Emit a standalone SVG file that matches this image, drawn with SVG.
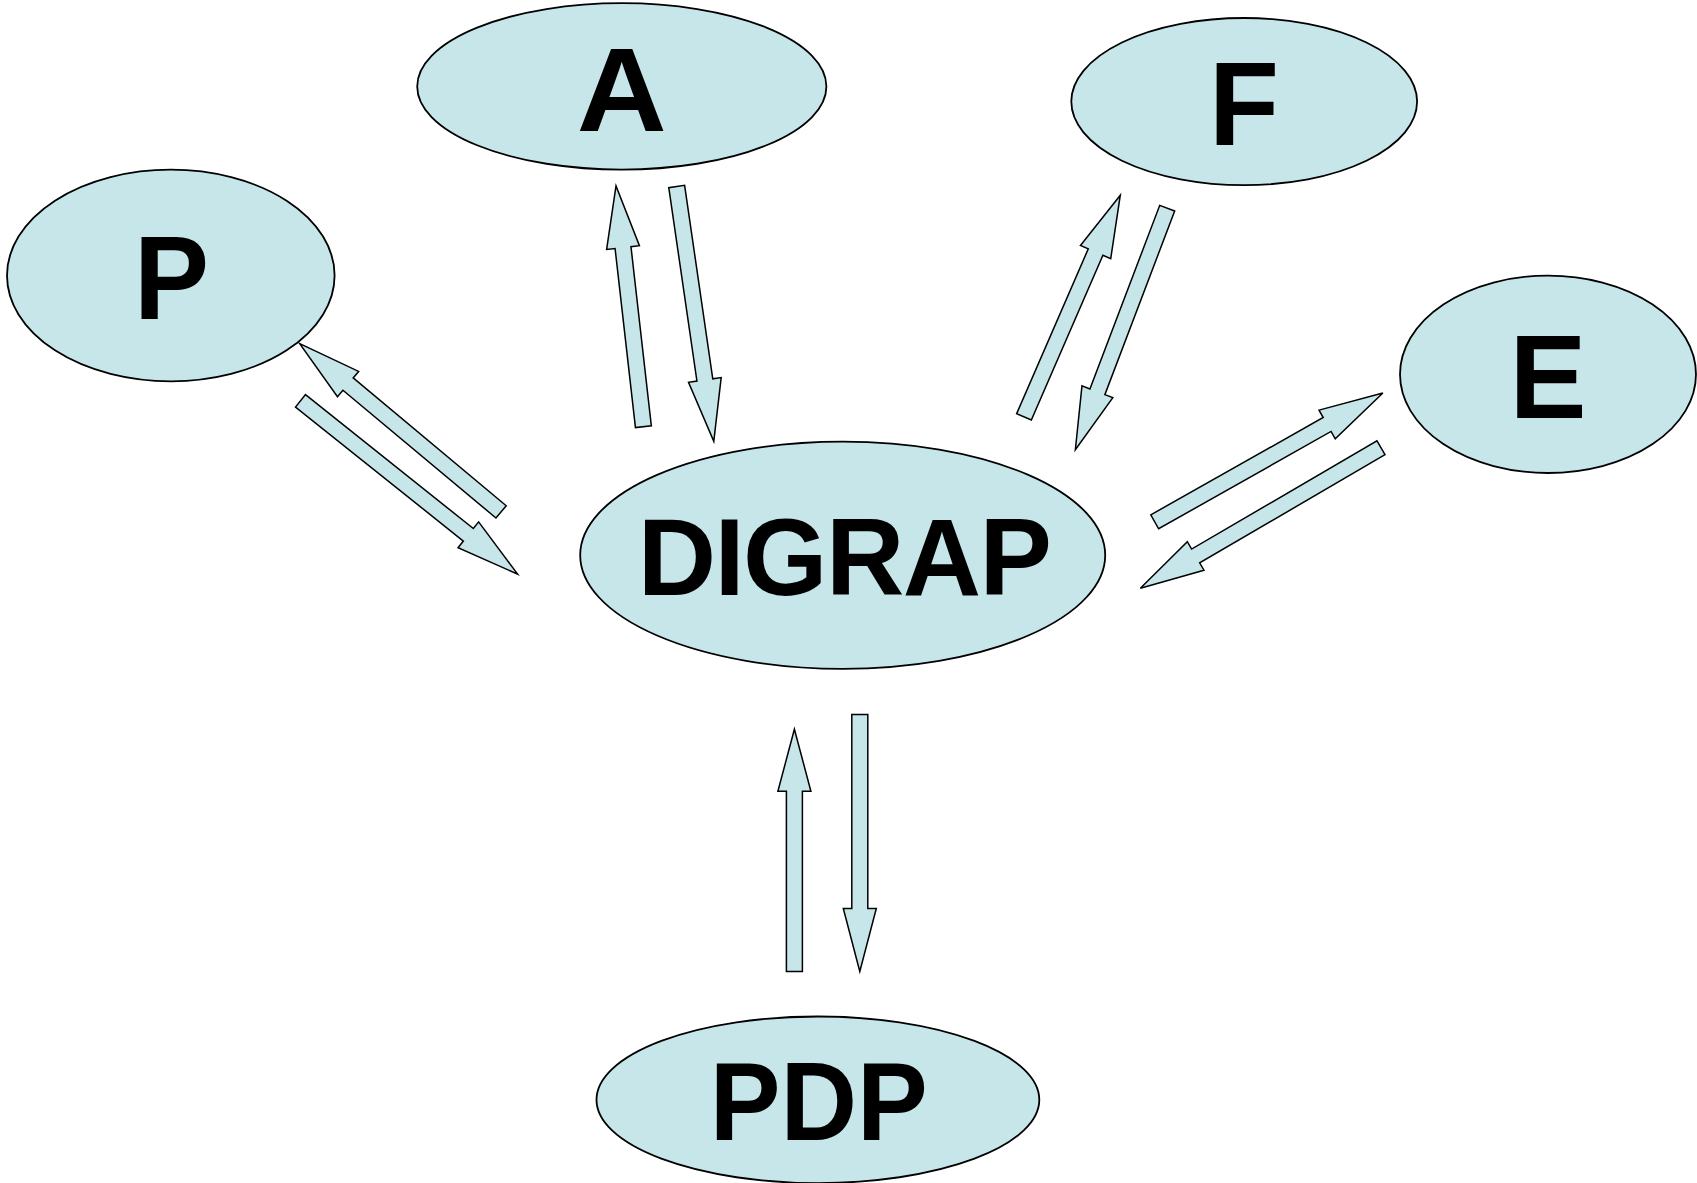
<svg xmlns="http://www.w3.org/2000/svg" width="1697" height="1183" viewBox="0 0 1697 1183">
<style>
.node ellipse{fill:#C6E6EA;stroke:#000;stroke-width:1.8}
.node text{font-family:"Liberation Sans",Arial,sans-serif;font-weight:bold;fill:#000;text-anchor:middle}
.arrow{fill:#C6E6EA;stroke:#000;stroke-width:1.5;stroke-linejoin:miter}
</style>
<rect width="1697" height="1183" fill="#fff"/>
<g id="connectors">
<path class="arrow" transform="translate(643.4,426.7) rotate(-96.49)" d="M0,-8 L180.3,-8 L180.3,-16.5 L242.3,0 L180.3,16.5 L180.3,8 L0,8 Z"/>
<path class="arrow" transform="translate(676.7,186.5) rotate(81.72)" d="M0,-8 L195.5,-8 L195.5,-16.5 L257.5,0 L195.5,16.5 L195.5,8 L0,8 Z"/>
<path class="arrow" transform="translate(501.1,511.9) rotate(-140.13)" d="M0,-8 L199.4,-8 L199.4,-16.5 L262.4,0 L199.4,16.5 L199.4,8 L0,8 Z"/>
<path class="arrow" transform="translate(300.5,400.9) rotate(38.58)" d="M0,-8 L214.7,-8 L214.7,-16.5 L277.7,0 L214.7,16.5 L214.7,8 L0,8 Z"/>
<path class="arrow" transform="translate(1024,416.8) rotate(-66.51)" d="M0,-8 L179.6,-8 L179.6,-16.5 L241.6,0 L179.6,16.5 L179.6,8 L0,8 Z"/>
<path class="arrow" transform="translate(1167.2,208.2) rotate(110.82)" d="M0,-8 L196.4,-8 L196.4,-16.5 L258.4,0 L196.4,16.5 L196.4,8 L0,8 Z"/>
<path class="arrow" transform="translate(1154.7,521.8) rotate(-29.44)" d="M0,-8 L198,-8 L198,-16.5 L262,0 L198,16.5 L198,8 L0,8 Z"/>
<path class="arrow" transform="translate(1381,447.8) rotate(149.74)" d="M0,-8 L214.6,-8 L214.6,-16.5 L278.6,0 L214.6,16.5 L214.6,8 L0,8 Z"/>
<path class="arrow" transform="translate(794.4,971.5) rotate(-90)" d="M0,-8 L180.3,-8 L180.3,-16.5 L242.3,0 L180.3,16.5 L180.3,8 L0,8 Z"/>
<path class="arrow" transform="translate(859.8,714.6) rotate(90)" d="M0,-8 L193.9,-8 L193.9,-16.5 L256.9,0 L193.9,16.5 L193.9,8 L0,8 Z"/>
</g>
<g id="node-A" class="node">
<ellipse cx="621.8" cy="86.4" rx="204.6" ry="83.2"/>
<text x="621.8" y="131" font-size="118" textLength="90" lengthAdjust="spacingAndGlyphs">A</text>
</g>
<g id="node-P" class="node">
<ellipse cx="170.8" cy="275.5" rx="163.8" ry="105.8"/>
<text x="171.5" y="319.3" font-size="118" textLength="75" lengthAdjust="spacingAndGlyphs">P</text>
</g>
<g id="node-F" class="node">
<ellipse cx="1244.2" cy="101.6" rx="172.9" ry="83.6"/>
<text x="1244" y="145" font-size="118" textLength="70" lengthAdjust="spacingAndGlyphs">F</text>
</g>
<g id="node-E" class="node">
<ellipse cx="1548" cy="374.3" rx="148" ry="98.7"/>
<text x="1548" y="417.8" font-size="118" textLength="77" lengthAdjust="spacingAndGlyphs">E</text>
</g>
<g id="node-DIGRAP" class="node">
<ellipse cx="842.7" cy="555.2" rx="262.5" ry="113.6"/>
<text x="844" y="595.3" font-size="108.5" letter-spacing="-1.6">DIGRAP</text>
</g>
<g id="node-PDP" class="node">
<ellipse cx="817.9" cy="1099.8" rx="221.4" ry="83.3"/>
<text x="818.7" y="1139.7" font-size="111" textLength="218" lengthAdjust="spacingAndGlyphs">PDP</text>
</g>
</svg>
